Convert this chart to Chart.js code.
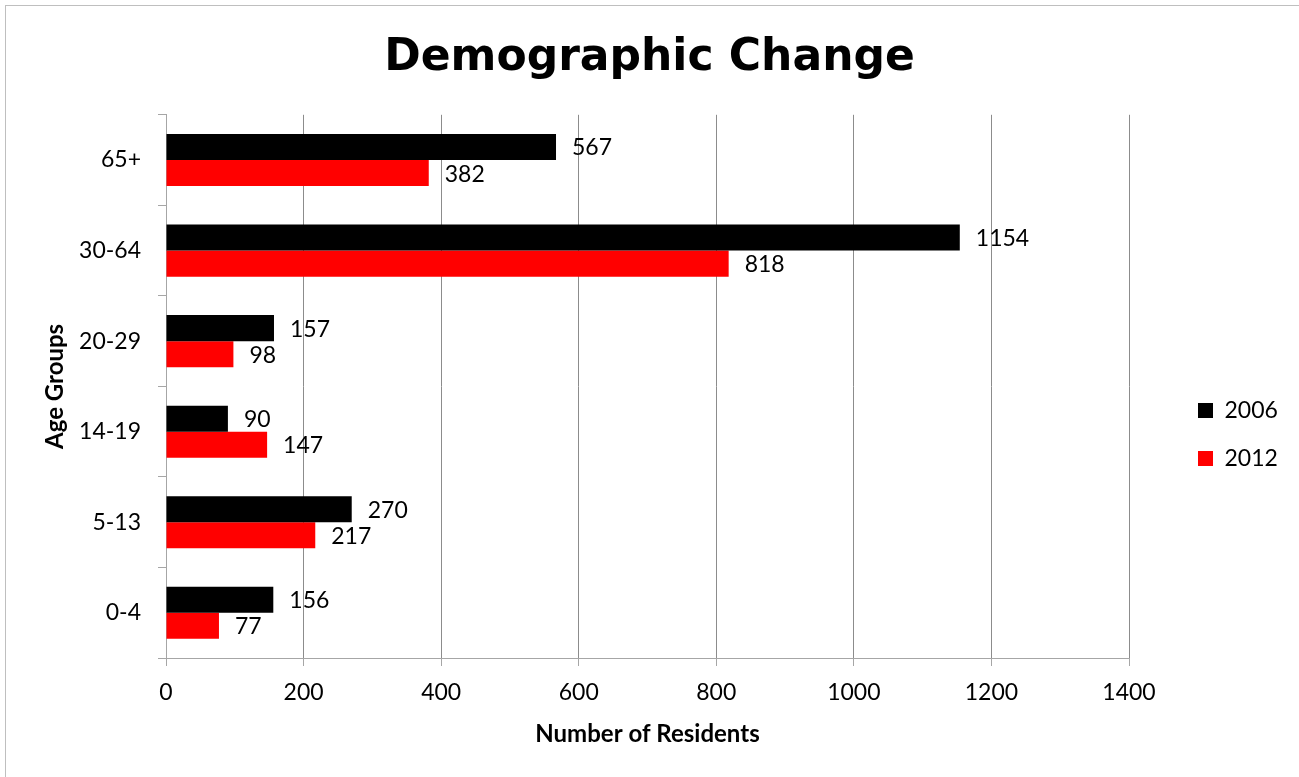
<!DOCTYPE html>
<html>
<head>
<meta charset="utf-8">
<title>Demographic Change</title>
<script src="https://cdn.jsdelivr.net/npm/chart.js@4.4.0/dist/chart.umd.min.js"></script>
<style>
  html, body { margin: 0; padding: 0; background: #fff; }
  canvas { display: block; }
</style>
</head>
<body>
<canvas id="demoChart" width="1299" height="777"></canvas>
<script>
// age groups, listed top to bottom
const ageGroups = ["65+", "30-64", "20-29", "14-19", "5-13", "0-4"];
const residents2006 = [567, 1154, 157, 90, 270, 156];
const residents2012 = [382, 818, 98, 147, 217, 77];
const residentTicks = [0, 200, 400, 600, 800, 1000, 1200, 1400];

const bodyFont = "Lato, 'Open Sans', sans-serif";

// white background + thin outer frame
const framePlugin = {
  id: "frame",
  beforeDraw(chart) {
    const ctx = chart.ctx;
    ctx.save();
    ctx.fillStyle = "#fff";
    ctx.fillRect(0, 0, chart.width, chart.height);
    ctx.strokeStyle = "#bfbfbf";
    ctx.lineWidth = 1;
    ctx.strokeRect(5.5, 5.5, chart.width + 20, chart.height + 20);
    ctx.restore();
  }
};

// value labels just past the end of each bar
const barValues = {
  id: "barValues",
  afterDatasetsDraw(chart) {
    const ctx = chart.ctx;
    ctx.save();
    ctx.font = "23px " + bodyFont;
    ctx.fillStyle = "#000";
    ctx.textBaseline = "middle";
    ctx.textAlign = "left";
    chart.data.datasets.forEach((ds, i) => {
      chart.getDatasetMeta(i).data.forEach((bar, j) => {
        ctx.fillText(ds.data[j], bar.x + 16, bar.y + 1);
      });
    });
    ctx.restore();
  }
};

// move the legend further right and a bit lower than the default spot
const legendNudge = {
  id: "legendNudge",
  afterLayout(chart) {
    const lg = chart.legend;
    lg.left += 44; lg.right += 44;
    lg.top += 46; lg.bottom += 46;
  }
};

new Chart(document.getElementById("demoChart"), {
  type: "bar",
  data: {
    labels: ageGroups,
    datasets: [
      { label: "2006", data: residents2006, backgroundColor: "#000000" },
      { label: "2012", data: residents2012, backgroundColor: "#ff0000" }
    ]
  },
  options: {
    indexAxis: "y",
    responsive: false,
    animation: false,
    datasets: { bar: { categoryPercentage: 0.575, barPercentage: 1 } },
    layout: { padding: 0 },
    plugins: {
      title: {
        display: true,
        text: "Demographic Change",
        color: "#000",
        font: { family: "'DejaVu Sans'", size: 44, weight: "bold" },
        padding: { top: 32, bottom: 30 }
      },
      legend: {
        position: "right",
        labels: {
          boxWidth: 15,
          boxHeight: 15,
          padding: 25,
          color: "#000",
          font: { family: bodyFont, size: 23 }
        }
      },
      tooltip: { enabled: false }
    },
    scales: {
      x: {
        min: residentTicks[0],
        max: residentTicks[residentTicks.length - 1],
        afterBuildTicks: s => { s.ticks = residentTicks.map(v => ({ value: v })); },
        // fixed axis height, and reserve room on the right for the legend
        afterFit: s => { s.height = 119; s.paddingRight = 170; },
        grid: { color: "#8c8c8c", tickColor: "#a6a6a6", tickLength: 8 },
        border: { color: "#a6a6a6" },
        ticks: {
          color: "#000",
          padding: 13,
          font: { family: bodyFont, size: 23 },
          callback: v => String(v)
        },
        title: {
          display: true,
          text: "Number of Residents",
          color: "#000",
          font: { family: bodyFont, size: 24, weight: "bold" },
          padding: { top: 0, bottom: 28 }
        }
      },
      y: {
        afterFit: s => { s.width = 166; },
        grid: { drawOnChartArea: false, offset: true, tickLength: 8, color: "#a6a6a6" },
        border: { color: "#a6a6a6" },
        ticks: { color: "#000", padding: 17, font: { family: bodyFont, size: 23 } },
        title: {
          display: true,
          text: "Age Groups",
          color: "#000",
          font: { family: bodyFont, size: 24, weight: "bold" },
          padding: { top: 41, bottom: 0 }
        }
      }
    }
  },
  plugins: [framePlugin, barValues, legendNudge]
});
</script>
</body>
</html>
